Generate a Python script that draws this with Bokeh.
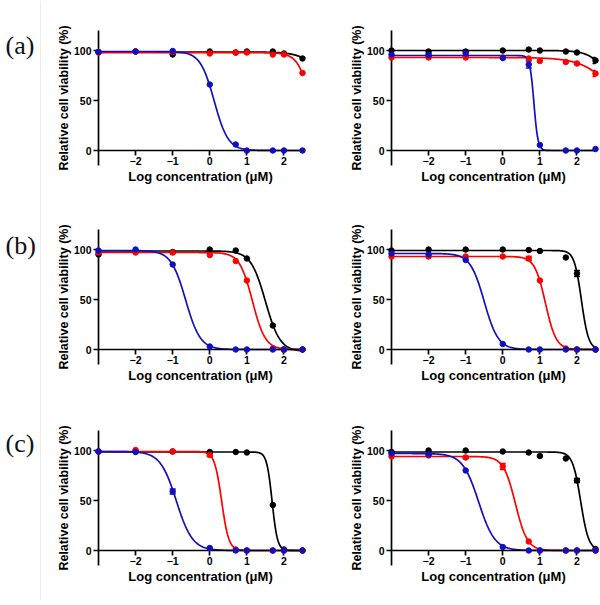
import numpy as np
from bokeh.plotting import figure
from bokeh.models import (Range1d, LinearAxis, FixedTicker, Label, Span, Whisker,
                          ColumnDataSource, TeeHead)
from bokeh.layouts import row, column
from bokeh.embed import file_html
from bokeh.resources import INLINE

# ---------------- data ----------------
LOG_CONC = [-3, -2, -1, 0, 0.7, 1, 1.7, 2, 2.5]
Y_TICKS = [0, 50, 100]
X_TICKS = [-2, -1, 0, 1, 2]
ROW_LABELS = ["(a)", "(b)", "(c)"]
X_LABEL = "Log concentration (μM)"
Y_LABEL = "Relative cell viability (%)"

# viability (%) per series: black, red, blue
A1_BLACK = [98.5, 99, 96, 99, 98, 99, 99, 97, 92]
A1_RED = [98, 99, 98.5, 97, 98, 98, 96, 96, 77.5]
A1_BLUE = [98.5, 99, 99.5, 66, 6, 0, 0, 0, 0]
A2_BLACK = [100, 99, 99, 100, 101, 100, 99, 98, 90]
A2_RED = [93, 93, 93, 93, 92, 89.5, 88.5, 87, 77]
A2_BLUE = [96, 95.5, 97, 92.5, 86, 5.5, 0, 0, 1.5]
B1_BLACK = [95, 98, 97.5, 100, 99, 91, 24, 0, 0]
B1_RED = [97, 97, 97, 94.5, 88.5, 69, 1, 0, 0]
B1_BLUE = [99, 100, 85, 3, 0, 0, 0, 0, 0]
B2_BLACK = [99, 100, 100, 100, 99.5, 98.5, 92, 76, 0]
B2_RED = [93, 93, 93, 93, 91, 69, 1, 0, 0]
B2_BLUE = [96, 95, 89.5, 5.5, 0, 0, 0, 0, 0]
C1_BLACK = [99, 99, 99, 98.5, 98.5, 98, 45.5, 1, 0]
C1_RED = [99, 100.5, 99, 95.5, 1, 0, 0, 0, 0]
C1_BLUE = [99, 98.5, 59, 2.5, 0, 0, 0, 0, 0]
C2_BLACK = [98.5, 100, 100, 99, 98, 94.5, 92, 70, 1.5]
C2_RED = [94, 95, 93, 84, 9, 0, 0, 0, 0]
C2_BLUE = [97, 96, 80, 3.5, 0, 0, 0, 0, 0]

# error (SEM) per series
A2_BLACK_ERR = [0, 0, 0, 0, 0, 0, 0, 0, 3]
A2_RED_ERR = [0, 0, 0, 0, 0, 0, 0, 0, 3]
A2_BLUE_ERR = [0, 1.5, 3, 0, 3.5, 0, 0, 0, 0]
B2_BLACK_ERR = [0, 0, 0, 0, 0, 0, 0, 3, 0]
B2_RED_ERR = [0, 0, 0, 0, 2, 0, 0, 0, 0]
C1_RED_ERR = [0, 0, 0, 1.5, 0, 0, 0, 0, 0]
C1_BLUE_ERR = [0, 0, 2.5, 0, 0, 0, 0, 0, 0]
C2_BLACK_ERR = [0, 0, 0, 0, 0, 0, 0, 2, 0]
C2_RED_ERR = [0, 0, 1, 3, 0, 0, 0, 0, 0]
C2_BLUE_ERR = [1.5, 0, 0, 0, 0, 0, 0, 0, 0]
NO_ERR = [0] * 9

# four-parameter logistic fits: top, bottom, logIC50, hill slope
A1_FITS = [(98.5, 0, 3.3, 1.5), (97.8, 0, 2.73, 2.45), (99, 0, 0.12, 2.3)]
A2_FITS = [(100, 0, 3.05, 1.73), (93, 0, 3.2, 1.0), (95, 0, 0.84, 8.0)]
B1_FITS = [(98.5, -2, 1.5, 2.2), (97, 0, 1.15, 2.5), (99, 0, -0.65, 2.2)]
B2_FITS = [(99, 0, 2.12, 4.5), (93, 0, 1.15, 3.0), (96, 0, -0.5, 2.3)]
C1_FITS = [(98.5, 0, 1.68, 6.0), (99, 0, 0.32, 4.5), (99, 0, -0.9, 2.0)]
C2_FITS = [(98.5, 0, 2.1, 4.0), (94, 0, 0.34, 2.7), (97, 0, -0.65, 2.0)]

COLORS = ["#000000", "#ff0000", "#1010c0"]

FONT = "Liberation Sans"


def make_panel(series, errs, fits, b_left, b_right, b_top, b_bottom):
    frame_w, frame_h = 204, 135
    p = figure(width=b_left + frame_w + b_right, height=b_top + frame_h + b_bottom,
               frame_width=frame_w, frame_height=frame_h,
               x_range=Range1d(-3, 2.5), y_range=Range1d(-15, 120),
               x_axis_type=None, y_axis_type=None,
               min_border_left=b_left, min_border_right=b_right,
               min_border_top=b_top, min_border_bottom=b_bottom,
               output_backend="svg", toolbar_location=None)
    p.outline_line_color = None
    p.background_fill_color = None
    p.border_fill_color = None

    yax = LinearAxis(ticker=FixedTicker(ticks=Y_TICKS), axis_label=Y_LABEL)
    yax.axis_line_width = 1.7
    yax.major_tick_line_width = 1.7
    yax.major_tick_out = 5
    yax.major_tick_in = 0
    yax.minor_tick_line_color = None
    yax.major_label_standoff = 2
    yax.axis_label_standoff = 0
    yax.major_label_text_font = FONT
    yax.major_label_text_font_style = "bold"
    yax.major_label_text_font_size = "10.5px"
    yax.axis_label_text_font = FONT
    yax.axis_label_text_font_style = "bold"
    yax.axis_label_text_font_size = "12.5px"
    yax.major_label_text_color = "#000000"
    yax.axis_label_text_color = "#000000"
    p.add_layout(yax, "left")

    # axis line with ticks at y = 0
    xline = LinearAxis(ticker=FixedTicker(ticks=X_TICKS), fixed_location=0)
    xline.bounds = (-3, 2.5)
    xline.axis_line_width = 1.7
    xline.major_tick_line_width = 1.7
    xline.major_tick_out = 5
    xline.major_tick_in = 0
    xline.minor_tick_line_color = None
    xline.major_label_text_color = None
    p.add_layout(xline, "below")

    # tick labels and title below the frame
    xlab = LinearAxis(ticker=FixedTicker(ticks=X_TICKS), axis_label=X_LABEL)
    xlab.axis_line_color = None
    xlab.major_tick_line_color = None
    xlab.minor_tick_line_color = None
    xlab.major_tick_in = 0
    xlab.major_tick_out = 0
    xlab.major_label_standoff = -9
    xlab.axis_label_standoff = 1
    xlab.major_label_text_font = FONT
    xlab.major_label_text_font_style = "bold"
    xlab.major_label_text_font_size = "10.5px"
    xlab.axis_label_text_font = FONT
    xlab.axis_label_text_font_style = "bold"
    xlab.axis_label_text_font_size = "13px"
    xlab.major_label_text_color = "#000000"
    xlab.axis_label_text_color = "#000000"
    p.add_layout(xlab, "below")

    xs = np.linspace(-3, 2.5, 300)
    for vals, err, fit, col in zip(series, errs, fits, COLORS):
        top, bottom, c, h = fit
        ys = bottom + (top - bottom) / (1 + 10 ** ((xs - c) * h))
        p.line(xs, ys, line_color=col, line_width=1.7)
        ex = [x for x, e in zip(LOG_CONC, err) if e > 0]
        ev = [v for v, e in zip(vals, err) if e > 0]
        ee = [e for e in err if e > 0]
        if ex:
            src = ColumnDataSource(dict(x=ex, lower=[v - e for v, e in zip(ev, ee)],
                                        upper=[v + e for v, e in zip(ev, ee)]))
            w = Whisker(source=src, base="x", lower="lower", upper="upper",
                        line_color=col, line_width=1.5,
                        upper_head=TeeHead(size=6, line_color=col, line_width=1.5),
                        lower_head=TeeHead(size=6, line_color=col, line_width=1.5))
            p.add_layout(w)
        p.scatter(LOG_CONC, vals, size=5.5, color=col, level="overlay")
    return p


a1 = make_panel([A1_BLACK, A1_RED, A1_BLUE], [NO_ERR, NO_ERR, NO_ERR], A1_FITS, 57, 6, 30, 35)
a2 = make_panel([A2_BLACK, A2_RED, A2_BLUE], [A2_BLACK_ERR, A2_RED_ERR, A2_BLUE_ERR], A2_FITS, 83, 4, 30, 35)
b1 = make_panel([B1_BLACK, B1_RED, B1_BLUE], [NO_ERR, NO_ERR, NO_ERR], B1_FITS, 57, 6, 29, 36)
b2 = make_panel([B2_BLACK, B2_RED, B2_BLUE], [B2_BLACK_ERR, B2_RED_ERR, NO_ERR], B2_FITS, 83, 4, 29, 36)
c1 = make_panel([C1_BLACK, C1_RED, C1_BLUE], [NO_ERR, C1_RED_ERR, C1_BLUE_ERR], C1_FITS, 57, 6, 30, 35)
c2 = make_panel([C2_BLACK, C2_RED, C2_BLUE], [C2_BLACK_ERR, C2_RED_ERR, C2_BLUE_ERR], C2_FITS, 83, 4, 30, 35)

# gutter with row labels and the faint divider line
g = figure(width=41, height=600, x_range=Range1d(0, 41), y_range=Range1d(0, 600),
           x_axis_type=None, y_axis_type=None, min_border=0,
           output_backend="svg", toolbar_location=None)
g.outline_line_color = None
g.add_layout(Span(location=40, dimension="height", line_color="#ededed", line_width=1))
for lab, yy in zip(ROW_LABELS, [555.5, 355.5, 157.5]):
    g.add_layout(Label(x=5, y=yy, text=lab, text_font="Liberation Serif",
                       text_font_size="26px", text_baseline="middle",
                       text_color="#111111"))

layout = row(g, column(row(a1, a2), row(b1, b2), row(c1, c2)))

with open("out.html", "w") as f:
    f.write(file_html(layout, INLINE))
